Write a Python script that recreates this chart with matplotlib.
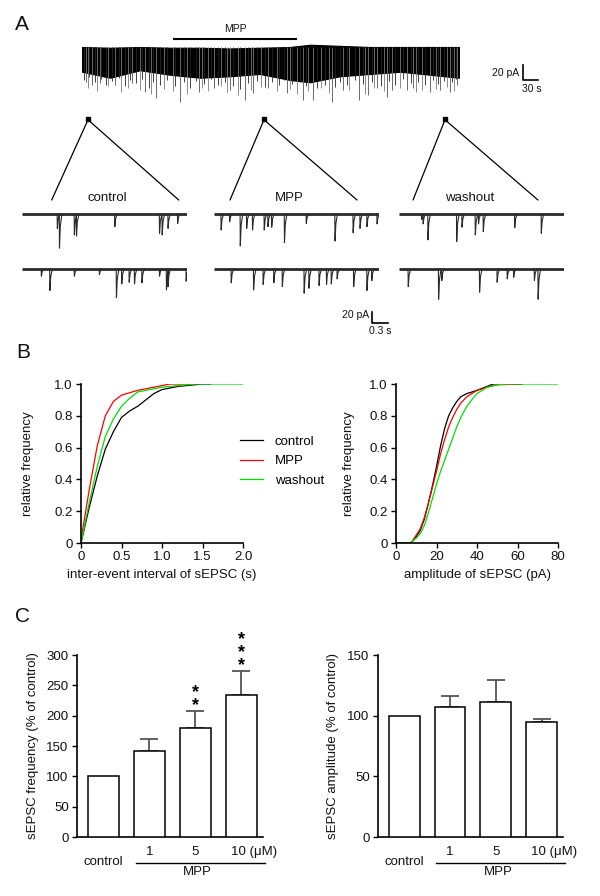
import numpy as np
import matplotlib
matplotlib.use('Agg')
import matplotlib.pyplot as plt
from matplotlib.patches import ConnectionPatch
import matplotlib.transforms as mtrans

plt.rcParams['font.family'] = ['Liberation Sans', 'DejaVu Sans']

# ---------------- DATA ----------------
# Panel A: long recording (time in s, current in pA relative to baseline)
env_t = [0, 56, 116, 176, 236, 296, 356, 416, 456, 516, 576, 636, 696, 754]
env_top = [0, -1, 0, -1, -1, -2, -1, 0, 3, 1.5, 0, 0, 0, 0]
env_bot = [-33, -41, -31, -37, -41, -39, -36, -44, -47, -39, -36, -33, -37, -41]
mid_t = [4, 14, 26, 38, 48, 60, 74, 86, 96, 108, 120, 134, 142, 156, 170, 186, 204, 216,
         228, 244, 258, 272, 286, 302, 316, 332, 350, 366, 380, 394, 404, 420, 436, 448,
         470, 486, 506, 516, 530, 546, 562, 580, 598, 614, 626, 642, 658, 672, 686, 702,
         712, 724, 740, 748]
mid_a = [-44, -40, -47, -42, -50, -45, -41, -52, -44, -48, -43, -55, -46, -50, -44, -52, -47, -54,
         -45, -49, -43, -51, -46, -52, -56, -48, -45, -53, -47, -50, -44, -49, -46, -52,
         -55, -50, -53, -47, -51, -44, -49, -46, -52, -45, -50, -43, -48, -46, -51, -44,
         -49, -45, -47, -42]
gray_t = [11, 30, 52, 78, 92, 115, 138, 164, 182, 210, 240, 252, 278, 290, 312, 338, 358,
          390, 416, 430, 452, 478, 494, 534, 566, 584, 604, 636, 668, 680, 708, 730, 744]
gray_a = [-55, -58, -52, -60, -54, -57, -62, -56, -59, -63, -55, -58, -52, -60, -64, -57, -53,
          -59, -56, -62, -58, -54, -61, -57, -63, -55, -59, -54, -60, -57, -56, -53, -58]
deep_t = [8, 20, 35, 66, 100, 126, 148, 196, 234, 264, 296, 326, 342, 372, 410, 442, 462, 500,
          522, 554, 572, 590, 610, 620, 650, 662, 696, 716, 736, 750]
deep_a = [-47, -51, -48, -51, -48, -60, -68, -73, -60, -55, -57, -71, -61, -55, -61, -71, -71, -73,
          -57, -71, -64, -55, -67, -57, -57, -55, -60, -57, -60, -51]
mpp_on, mpp_off = 182, 430            # s, MPP application bar
sample_times = [12, 364, 726]         # s, where the expanded traces were taken
conditions = ['control', 'MPP', 'washout']

# expanded traces: event time (s) and amplitude (pA)
ctrl1_t = [0.66, 0.70, 0.98, 1.02, 1.74, 2.58, 2.63, 2.74, 2.92]
ctrl1_a = [26, 62, 38, 40, 23, 35, 38, 26, 17]
ctrl2_t = [0.36, 0.52, 0.98, 1.45, 1.77, 1.87, 2.01, 2.11, 2.25, 2.58, 2.71, 2.74, 3.08]
ctrl2_a = [13, 39, 13, 10, 52, 27, 24, 27, 25, 13, 38, 32, 22]
mpp1_t = [0.13, 0.29, 0.49, 0.61, 0.72, 0.94, 1.01, 1.08, 1.32, 1.73, 2.27, 2.61, 2.74, 2.87, 3.06]
mpp1_a = [29, 14, 58, 26, 29, 29, 23, 24, 52, 17, 49, 34, 26, 23, 18]
mpp2_t = [0.32, 0.74, 0.92, 1.12, 1.28, 1.69, 1.78, 1.97, 2.11, 2.20, 2.31, 2.62, 2.87, 2.96]
mpp2_a = [25, 38, 28, 25, 32, 44, 35, 30, 28, 27, 18, 32, 39, 21]
wash1_t = [0.42, 0.45, 0.54, 1.08, 1.18, 1.43, 1.49, 1.58, 2.17, 2.67]
wash1_a = [10, 18, 47, 50, 24, 38, 18, 32, 25, 35]
wash2_t = [0.17, 0.74, 0.80, 1.51, 1.84, 2.03, 2.15, 2.54, 2.61]
wash2_a = [32, 55, 21, 42, 24, 18, 15, 21, 55]

# Panel B: cumulative distributions
iei_ctrl_x = [0, 0.1, 0.2, 0.3, 0.4, 0.5, 0.6, 0.7, 0.8, 0.9, 1.0, 1.1, 1.2, 1.3, 1.4, 1.5, 1.6]
iei_ctrl_y = [0, 0.22, 0.42, 0.59, 0.70, 0.79, 0.83, 0.86, 0.90, 0.94, 0.965, 0.975, 0.985, 0.99, 0.995, 1.0, 1.0]
iei_mpp_x = [0, 0.1, 0.2, 0.3, 0.4, 0.5, 0.6, 0.7, 0.8, 0.9, 1.0, 1.1, 1.2, 1.4]
iei_mpp_y = [0.02, 0.33, 0.61, 0.80, 0.89, 0.93, 0.945, 0.96, 0.97, 0.98, 0.99, 1.0, 1.0, 1.0]
iei_wash_x = [0, 0.1, 0.2, 0.3, 0.4, 0.5, 0.6, 0.7, 0.8, 0.9, 1.0, 1.2, 1.4, 1.6, 2.0]
iei_wash_y = [0, 0.25, 0.48, 0.67, 0.78, 0.86, 0.91, 0.95, 0.96, 0.97, 0.98, 0.99, 1.0, 1.0, 1.0]

amp_ctrl_x = [0, 7, 8, 10, 12, 14, 16, 18, 20, 22, 24, 26, 28, 30, 32, 35, 40, 45, 48, 55, 62]
amp_ctrl_y = [0, 0, 0.01, 0.04, 0.08, 0.15, 0.25, 0.36, 0.48, 0.61, 0.72, 0.80, 0.85, 0.89, 0.92, 0.94, 0.96, 0.985, 1.0, 1.0, 1.0]
amp_mpp_x = [0, 7, 8, 10, 12, 14, 16, 18, 20, 22, 24, 26, 28, 30, 32, 35, 40, 45, 50, 62]
amp_mpp_y = [0, 0, 0.01, 0.05, 0.09, 0.16, 0.25, 0.35, 0.45, 0.56, 0.65, 0.73, 0.79, 0.84, 0.88, 0.92, 0.96, 0.98, 0.995, 1.0]
amp_wash_x = [0, 7, 8, 10, 12, 14, 16, 18, 20, 22, 24, 26, 28, 30, 32, 35, 38, 40, 45, 50, 55, 80]
amp_wash_y = [0, 0, 0.01, 0.03, 0.06, 0.11, 0.19, 0.28, 0.37, 0.45, 0.52, 0.59, 0.66, 0.73, 0.79, 0.86, 0.91, 0.94, 0.98, 0.995, 1.0, 1.0]

# Panel C: bar charts (% of control)
groups = ['control', '1', '5', '10 (\u03bcM)']
freq_mean = [100, 142, 180, 234]
freq_err = [0, 20, 27, 39]
freq_sig = ['', '', '**', '***']
amp_mean = [100, 107, 111.5, 95]
amp_err = [0, 9, 17.5, 2.5]
amp_sig = ['', '', '', '']

# ---------------- FIGURE ----------------
W, H = 600, 896
fig = plt.figure(figsize=(W / 100, H / 100), dpi=100)


def add_ax(x0, y0, x1, y1):
    return fig.add_axes([x0 / W, 1 - y1 / H, (x1 - x0) / W, (y1 - y0) / H])


FS = 9.5
TXT = '#111111'

# ---- Panel A: long trace ----
axT = add_ax(82, 40, 459, 105)
axT.set_xlim(0, 754)
axT.set_ylim(-77.3, 9.3)
axT.axis('off')
axT.vlines(deep_t, 0, deep_a, color='#6a6a6a', lw=0.7)
axT.vlines(gray_t, 0, gray_a, color='#7a7a7a', lw=0.6)
axT.vlines(mid_t, 0, mid_a, color='#222222', lw=0.6)
axT.fill_between(env_t, env_bot, env_top, color='black', lw=0.8, edgecolor='black')
axT.plot([mpp_on, mpp_off], [10.7, 10.7], color='black', lw=1.5, clip_on=False,
         solid_capstyle='butt')
axT.text((mpp_on + mpp_off) / 2, 24, 'MPP', ha='center', va='center', fontsize=7.5,
         color=TXT)
# scale bar (20 pA / 30 s)
axT.plot([882, 882, 912], [-24, -44, -44], color='black', lw=1.2, clip_on=False)
axT.text(874, -34.7, '20 pA', ha='right', va='center', fontsize=7.5, color=TXT)
axT.text(900, -56, '30 s', ha='center', va='center', fontsize=7.5, color=TXT)

# ---- expanded traces ----
cols_x = [22, 214, 399]
row_y = [205, 260]
events = [[(ctrl1_t, ctrl1_a), (ctrl2_t, ctrl2_a)],
          [(mpp1_t, mpp1_a), (mpp2_t, mpp2_a)],
          [(wash1_t, wash1_a), (wash2_t, wash2_a)]]
line_ends = [(0.18, 0.95), (0.097, 0.867), (0.085, 0.842)]
label_x = [0.515, 0.455, 0.43]


def draw_trace(ax, ev_t, ev_a):
    ax.set_xlim(0, 3.1)
    ax.set_ylim(-74.5, 16.4)
    ax.axis('off')
    ax.plot([0, 3.1], [0, 0], color='#2a2a2a', lw=2.0, solid_capstyle='butt')
    xs, ys = [], []
    for t, a in zip(ev_t, ev_a):
        xs += [t, t + 0.004, t + 0.02, t + 0.05, np.nan]
        ys += [0, -a, -0.35 * a, 0, np.nan]
    ax.plot(xs, ys, color='#2a2a2a', lw=0.8)


small_axes = []
for ci, cx in enumerate(cols_x):
    pair = []
    for ri, ry in enumerate(row_y):
        ax = add_ax(cx, ry, cx + 165, ry + 50)
        draw_trace(ax, *events[ci][ri])
        pair.append(ax)
    small_axes.append(pair)
    top = pair[0]
    top.text(label_x[ci], 1.14, conditions[ci], transform=top.transAxes, ha='center',
             va='center', fontsize=FS, color=TXT)
    # dot + zoom lines
    axT.plot(sample_times[ci], -96, marker='s', ms=2.2, color='black', clip_on=False)
    for fx in line_ends[ci]:
        con = ConnectionPatch(xyA=(sample_times[ci], -97), coordsA=axT.transData,
                              xyB=(fx, 1.1), coordsB=top.transAxes,
                              color='black', lw=0.9)
        fig.add_artist(con)

# small scale bar on MPP bottom trace
axS = small_axes[1][1]
axS.plot([2.968, 2.968, 3.268], [-78.2, -98.2, -98.2], color='black', lw=1.2, clip_on=False)
axS.text(2.91, -84, '20 pA', ha='right', va='center', fontsize=7.5, color=TXT)
axS.text(3.12, -113, '0.3 s', ha='center', va='center', fontsize=7.5, color=TXT)


# ---- common axis styling ----
def style_axes(ax):
    for s in ['top', 'right']:
        ax.spines[s].set_visible(False)
    for s in ['left', 'bottom']:
        ax.spines[s].set_linewidth(1.2)
        ax.spines[s].set_color('black')
    ax.tick_params(axis='both', labelsize=FS, width=1.0, length=3.5, direction='out',
                   colors='black', labelcolor=TXT, pad=2.5)


# ---- Panel B ----
axB1 = add_ax(81, 384, 243, 543)
axB2 = add_ax(396, 384, 558, 543)
l1, = axB1.plot(iei_ctrl_x, iei_ctrl_y, color='black', lw=0.9)
l2, = axB1.plot(iei_mpp_x, iei_mpp_y, color='#ff0000', lw=0.9)
l3, = axB1.plot(iei_wash_x, iei_wash_y, color='#00e000', lw=0.9)
axB1.set_xlim(0, 2.0)
axB1.set_ylim(0, 1.0)
axB1.set_xticks([0, 0.5, 1.0, 1.5, 2.0])
axB1.set_xticklabels(['0', '0.5', '1.0', '1.5', '2.0'])
axB1.set_xlabel('inter-event interval of sEPSC (s)', fontsize=FS, color=TXT)

axB2.plot(amp_ctrl_x, amp_ctrl_y, color='black', lw=0.9)
axB2.plot(amp_mpp_x, amp_mpp_y, color='#ff0000', lw=0.9)
axB2.plot(amp_wash_x, amp_wash_y, color='#00e000', lw=0.9)
axB2.set_xlim(0, 80)
axB2.set_ylim(0, 1.0)
axB2.set_xticks([0, 20, 40, 60, 80])
axB2.set_xlabel('amplitude of sEPSC (pA)', fontsize=FS, color=TXT)

for ax, lx in [(axB1, -0.29), (axB2, -0.253)]:
    style_axes(ax)
    ax.set_yticks([0, 0.2, 0.4, 0.6, 0.8, 1.0])
    ax.set_yticklabels(['0', '0.2', '0.4', '0.6', '0.8', '1.0'])
    ax.set_ylabel('relative frequency', fontsize=FS, color=TXT)
    ax.yaxis.set_label_coords(lx, 0.5)
    ax.xaxis.set_label_coords(0.5, -0.164)
    for sp in ax.spines.values():
        sp.set_clip_on(False)

fig.legend([l1, l2, l3], conditions, loc='center left',
           bbox_to_anchor=(240 / W, 1 - 461 / H), frameon=False, fontsize=FS,
           handlelength=1.75, handletextpad=0.9, labelspacing=0.55, borderpad=0,
           borderaxespad=0)

# ---- Panel C ----
axC1 = add_ax(77, 655, 263, 837)
axC2 = add_ax(378, 655, 563, 837)
xpos = np.arange(len(groups))
for ax, means, errs, sigs, ymax, ylab, lx in [
        (axC1, freq_mean, freq_err, freq_sig, 300, 'sEPSC frequency (% of control)', -0.204),
        (axC2, amp_mean, amp_err, amp_sig, 150, 'sEPSC amplitude (% of control)', -0.211)]:
    ax.bar(xpos, means, width=0.67, color='white', edgecolor='black', linewidth=1.1, zorder=3)
    eb_x = [x for x, e in zip(xpos, errs) if e > 0]
    eb_m = [m for m, e in zip(means, errs) if e > 0]
    eb_e = [e for e in errs if e > 0]
    ax.errorbar(eb_x, eb_m, yerr=[np.zeros(len(eb_e)), eb_e], fmt='none',
                ecolor='#555555', elinewidth=1.3, capsize=6.5, capthick=1.3, zorder=2)
    ax.set_xlim(-0.576, 3.47)
    ax.set_ylim(0, ymax)
    ax.set_yticks(np.arange(0, ymax + 1, 50))
    style_axes(ax)
    ax.set_xticks([])
    ax.set_ylabel(ylab, fontsize=FS, color=TXT)
    ax.yaxis.set_label_coords(lx, 0.5)
    for sp in ax.spines.values():
        sp.set_clip_on(False)
    tr = mtrans.blended_transform_factory(ax.transData, ax.transAxes)
    ax.text(xpos[0], -0.137, groups[0], transform=tr, ha='center', va='center',
            fontsize=FS, color=TXT)
    ax.text(xpos[1], -0.082, groups[1], transform=tr, ha='center', va='center',
            fontsize=FS, color=TXT)
    ax.text(xpos[2], -0.082, groups[2], transform=tr, ha='center', va='center',
            fontsize=FS, color=TXT)
    ax.text(xpos[3] - 0.22, -0.082, groups[3], transform=tr, ha='left', va='center',
            fontsize=FS, color=TXT)
    ax.plot([0.7, 3.52], [-0.143, -0.143], transform=tr, color='black', lw=1.0,
            clip_on=False)
    ax.text(2.05, -0.195, 'MPP', transform=tr, ha='center', va='center', fontsize=FS,
            color=TXT)
    # significance stars (one stacked text per bar)
    for x, m, e, s in zip(xpos, means, errs, sigs):
        if s:
            ax.annotate('\n'.join(s), xy=(x, m + e), xytext=(0, -2.2),
                        textcoords='offset points', ha='center', va='bottom',
                        fontsize=13, fontweight='bold', linespacing=0.72, color='black')

# panel letters
for letter, (lx, ly) in {'A': (22, 25), 'B': (23, 352), 'C': (23, 616)}.items():
    fig.text(lx / W, 1 - ly / H, letter, fontsize=15, ha='center', va='center', color=TXT)

fig.savefig('out.png', dpi=100, facecolor='white')
